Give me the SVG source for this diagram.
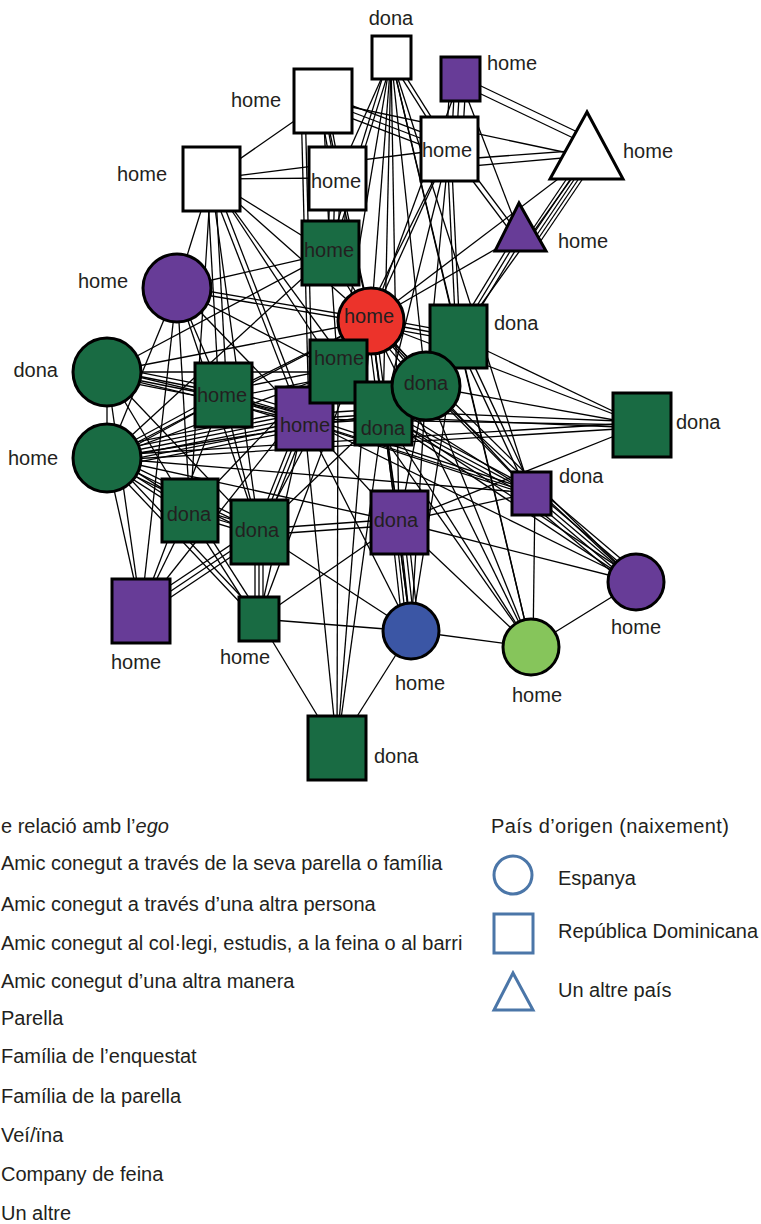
<svg xmlns="http://www.w3.org/2000/svg" width="761" height="1224" viewBox="0 0 761 1224">
<style>
.e line{stroke:#000;stroke-width:1.3}
.n{stroke:#000;stroke-width:3}
.w{fill:#fff}.gr{fill:#196b43}.pu{fill:#673c97}.re{fill:#ec332b}.bl{fill:#3b56a5}.lg{fill:#86c55b}
text{font-family:"Liberation Sans",Arial,sans-serif;font-size:20px;fill:#231f20}
.c{text-anchor:middle}.r{text-anchor:end}
.lgd{fill:none;stroke:#4b76a8;stroke-width:3}
</style>
<rect width="761" height="1224" fill="#fff"/>
<g id="edges" class="e">
<line x1="371" y1="321" x2="391" y2="57"/><line x1="371" y1="321" x2="460" y2="79"/><line x1="371" y1="321" x2="323" y2="101"/><line x1="371" y1="321" x2="449" y2="149"/><line x1="371" y1="321" x2="587" y2="157"/><line x1="371" y1="321" x2="520" y2="235"/><line x1="371" y1="321" x2="211" y2="179"/><line x1="371" y1="321" x2="337" y2="178"/><line x1="371" y1="321" x2="304" y2="419"/><line x1="371" y1="321" x2="223" y2="395"/><line x1="371" y1="321" x2="107" y2="372"/><line x1="371" y1="321" x2="107" y2="458"/><line x1="371" y1="321" x2="190" y2="511"/><line x1="371" y1="321" x2="259" y2="532"/><line x1="371" y1="321" x2="399" y2="522"/><line x1="371" y1="321" x2="531" y2="493"/><line x1="371" y1="321" x2="642" y2="425"/><line x1="371" y1="321" x2="636" y2="582"/><line x1="371" y1="321" x2="531" y2="647"/><line x1="371" y1="321" x2="411" y2="631"/><line x1="371" y1="321" x2="141" y2="611"/><line x1="371" y1="321" x2="259" y2="619"/><line x1="371" y1="321" x2="337" y2="748"/>
<line x1="372.7" y1="320" x2="331.7" y2="252"/><line x1="369.3" y1="322" x2="328.3" y2="254"/>
<line x1="371.3" y1="319" x2="177.3" y2="286"/><line x1="370.7" y1="323" x2="176.7" y2="290"/>
<line x1="371.7" y1="317.1" x2="458.7" y2="333.1"/><line x1="371" y1="321" x2="458" y2="337"/><line x1="370.3" y1="324.9" x2="457.3" y2="340.9"/>
<line x1="374.4" y1="323.2" x2="341.4" y2="374.2"/><line x1="371" y1="321" x2="338" y2="372"/><line x1="367.6" y1="318.8" x2="334.6" y2="369.8"/>
<line x1="374.1" y1="318.4" x2="429.1" y2="383.4"/><line x1="371" y1="321" x2="426" y2="386"/><line x1="367.9" y1="323.6" x2="422.9" y2="388.6"/>
<line x1="375" y1="320.5" x2="387" y2="413.5"/><line x1="371" y1="321" x2="383" y2="414"/><line x1="367" y1="321.5" x2="379" y2="414.5"/>
<line x1="392.7" y1="55.9" x2="450.7" y2="147.9"/><line x1="389.3" y1="58.1" x2="447.3" y2="150.1"/>
<line x1="392.9" y1="57.6" x2="331.9" y2="253.6"/><line x1="389.1" y1="56.4" x2="328.1" y2="252.4"/>
<line x1="391" y1="57" x2="337" y2="178"/><line x1="391" y1="57" x2="338" y2="372"/><line x1="391" y1="57" x2="383" y2="414"/><line x1="391" y1="57" x2="426" y2="386"/><line x1="391" y1="57" x2="458" y2="337"/><line x1="391" y1="57" x2="399" y2="522"/><line x1="391" y1="57" x2="531" y2="493"/><line x1="391" y1="57" x2="531" y2="647"/>
<line x1="450" y1="79" x2="446" y2="149"/><line x1="455" y1="79" x2="451" y2="149"/><line x1="460" y1="79" x2="456" y2="149"/><line x1="466" y1="79" x2="462" y2="149"/>
<line x1="460" y1="76" x2="590" y2="138"/><line x1="460" y1="84" x2="590" y2="146"/>
<line x1="460" y1="79" x2="520" y2="235"/>
<line x1="323" y1="101" x2="211" y2="179"/><line x1="323" y1="101" x2="587" y2="157"/><line x1="323" y1="101" x2="330" y2="253"/>
<line x1="325.1" y1="95.4" x2="451.1" y2="143.4"/><line x1="323" y1="101" x2="449" y2="149"/><line x1="320.9" y1="106.6" x2="446.9" y2="154.6"/>
<line x1="326.9" y1="100.3" x2="340.9" y2="177.3"/><line x1="323" y1="101" x2="337" y2="178"/><line x1="319.1" y1="101.7" x2="333.1" y2="178.7"/>
<line x1="301" y1="101" x2="309" y2="419"/><line x1="305" y1="101" x2="313" y2="419"/>
<line x1="330" y1="178" x2="328" y2="253"/><line x1="335" y1="178" x2="333" y2="253"/><line x1="340" y1="178" x2="338" y2="253"/><line x1="346" y1="178" x2="344" y2="253"/>
<line x1="576" y1="165" x2="524" y2="242"/><line x1="580" y1="165" x2="528" y2="242"/><line x1="584" y1="165" x2="532" y2="242"/><line x1="588" y1="165" x2="536" y2="242"/><line x1="592" y1="165" x2="540" y2="242"/>
<line x1="449" y1="160" x2="585" y2="150"/><line x1="449" y1="168" x2="585" y2="156"/>
<line x1="451" y1="152" x2="511" y2="232"/><line x1="455" y1="149" x2="515" y2="229"/>
<line x1="447" y1="149" x2="456" y2="337"/><line x1="451" y1="149" x2="460" y2="337"/>
<line x1="449" y1="149" x2="426" y2="386"/><line x1="449" y1="149" x2="338" y2="372"/><line x1="449" y1="149" x2="383" y2="414"/><line x1="449" y1="149" x2="211" y2="179"/>
<line x1="587" y1="157" x2="458" y2="337"/>
<line x1="523.4" y1="237.1" x2="461.4" y2="339.1"/><line x1="520" y1="235" x2="458" y2="337"/><line x1="516.6" y1="232.9" x2="454.6" y2="334.9"/>
<line x1="211" y1="179" x2="337" y2="178"/><line x1="211" y1="179" x2="330" y2="253"/><line x1="211" y1="179" x2="177" y2="288"/><line x1="211" y1="179" x2="338" y2="372"/><line x1="211" y1="179" x2="383" y2="414"/><line x1="211" y1="179" x2="190" y2="511"/><line x1="211" y1="179" x2="259" y2="532"/>
<line x1="207" y1="179" x2="219" y2="395"/><line x1="215" y1="179" x2="227" y2="395"/>
<line x1="213.3" y1="178.1" x2="306.3" y2="418.1"/><line x1="208.7" y1="179.9" x2="301.7" y2="419.9"/>
<line x1="330" y1="253" x2="177" y2="288"/><line x1="330" y1="253" x2="107" y2="372"/><line x1="330" y1="253" x2="338" y2="372"/><line x1="330" y1="253" x2="107" y2="458"/>
<line x1="177" y1="288" x2="338" y2="372"/><line x1="177" y1="288" x2="304" y2="419"/><line x1="177" y1="288" x2="223" y2="395"/><line x1="177" y1="288" x2="190" y2="511"/><line x1="177" y1="288" x2="259" y2="532"/><line x1="177" y1="288" x2="141" y2="611"/><line x1="177" y1="288" x2="107" y2="458"/>
<line x1="458" y1="337" x2="642" y2="425"/><line x1="458" y1="337" x2="426" y2="386"/><line x1="458" y1="337" x2="383" y2="414"/><line x1="458" y1="337" x2="531" y2="647"/><line x1="458" y1="337" x2="411" y2="631"/>
<line x1="460.3" y1="335.9" x2="533.3" y2="491.9"/><line x1="455.7" y1="338.1" x2="528.7" y2="494.1"/>
<line x1="338" y1="372" x2="383" y2="414"/><line x1="338" y1="372" x2="304" y2="419"/><line x1="338" y1="372" x2="107" y2="372"/><line x1="338" y1="372" x2="107" y2="458"/><line x1="338" y1="372" x2="337" y2="748"/><line x1="338" y1="372" x2="531" y2="647"/><line x1="338" y1="372" x2="531" y2="493"/>
<line x1="338.8" y1="375.9" x2="223.8" y2="398.9"/><line x1="337.2" y1="368.1" x2="222.2" y2="391.1"/>
<line x1="426" y1="386" x2="383" y2="414"/><line x1="426" y1="386" x2="642" y2="425"/><line x1="426" y1="386" x2="636" y2="582"/><line x1="426" y1="386" x2="531" y2="647"/><line x1="426" y1="386" x2="411" y2="631"/><line x1="426" y1="386" x2="399" y2="522"/><line x1="426" y1="386" x2="531" y2="493"/>
<line x1="383" y1="409" x2="304" y2="414"/><line x1="383" y1="414" x2="304" y2="419"/><line x1="383" y1="419" x2="304" y2="424"/>
<line x1="383" y1="411" x2="642" y2="422"/><line x1="383" y1="417" x2="642" y2="428"/>
<line x1="384.9" y1="410.5" x2="532.9" y2="489.5"/><line x1="383" y1="414" x2="531" y2="493"/><line x1="381.1" y1="417.5" x2="529.1" y2="496.5"/>
<line x1="384.4" y1="411.9" x2="637.4" y2="579.9"/><line x1="381.6" y1="416.1" x2="634.6" y2="584.1"/>
<line x1="383" y1="414" x2="531" y2="647"/><line x1="383" y1="414" x2="399" y2="522"/><line x1="383" y1="414" x2="411" y2="631"/><line x1="383" y1="414" x2="337" y2="748"/><line x1="383" y1="414" x2="259" y2="532"/><line x1="383" y1="414" x2="107" y2="458"/>
<line x1="305.9" y1="428.8" x2="108.9" y2="467.8"/><line x1="305.2" y1="424.9" x2="108.2" y2="463.9"/><line x1="304.4" y1="421" x2="107.4" y2="460"/><line x1="303.6" y1="417" x2="106.6" y2="456"/><line x1="302.8" y1="413.1" x2="105.8" y2="452.1"/><line x1="302.1" y1="409.2" x2="105.1" y2="448.2"/>
<line x1="302.3" y1="424.8" x2="221.3" y2="400.8"/><line x1="303.4" y1="420.9" x2="222.4" y2="396.9"/><line x1="304.6" y1="417.1" x2="223.6" y2="393.1"/><line x1="305.7" y1="413.2" x2="224.7" y2="389.2"/>
<line x1="307.7" y1="420.5" x2="262.7" y2="533.5"/><line x1="304" y1="419" x2="259" y2="532"/><line x1="300.3" y1="417.5" x2="255.3" y2="530.5"/>
<line x1="304.6" y1="416.6" x2="107.6" y2="369.6"/><line x1="303.4" y1="421.4" x2="106.4" y2="374.4"/>
<line x1="304" y1="419" x2="642" y2="425"/><line x1="304" y1="419" x2="636" y2="582"/><line x1="304" y1="419" x2="259" y2="619"/><line x1="304" y1="419" x2="337" y2="748"/><line x1="304" y1="419" x2="399" y2="522"/><line x1="304" y1="419" x2="411" y2="631"/>
<line x1="304.8" y1="416.6" x2="531.8" y2="490.6"/><line x1="303.2" y1="421.4" x2="530.2" y2="495.4"/>
<line x1="221.8" y1="400.9" x2="105.8" y2="377.9"/><line x1="222.6" y1="397" x2="106.6" y2="374"/><line x1="223.4" y1="393" x2="107.4" y2="370"/><line x1="224.2" y1="389.1" x2="108.2" y2="366.1"/>
<line x1="221.8" y1="392.8" x2="105.8" y2="455.8"/><line x1="224.2" y1="397.2" x2="108.2" y2="460.2"/>
<line x1="223" y1="395" x2="259" y2="532"/><line x1="223" y1="395" x2="141" y2="611"/><line x1="223" y1="395" x2="531" y2="493"/>
<line x1="107" y1="372" x2="107" y2="458"/><line x1="107" y1="372" x2="190" y2="511"/><line x1="107" y1="372" x2="259" y2="532"/><line x1="107" y1="372" x2="141" y2="611"/>
<line x1="107" y1="455.5" x2="642" y2="422.5"/><line x1="107" y1="460.5" x2="642" y2="427.5"/>
<line x1="109.2" y1="454.6" x2="192.2" y2="507.6"/><line x1="107" y1="458" x2="190" y2="511"/><line x1="104.8" y1="461.4" x2="187.8" y2="514.4"/>
<line x1="108.8" y1="454.4" x2="260.8" y2="528.4"/><line x1="107" y1="458" x2="259" y2="532"/><line x1="105.2" y1="461.6" x2="257.2" y2="535.6"/>
<line x1="108.8" y1="456.3" x2="260.8" y2="617.3"/><line x1="105.2" y1="459.7" x2="257.2" y2="620.7"/>
<line x1="107" y1="458" x2="141" y2="611"/><line x1="107" y1="458" x2="531" y2="493"/><line x1="107" y1="458" x2="399" y2="522"/>
<line x1="191.2" y1="507.2" x2="260.2" y2="528.2"/><line x1="190" y1="511" x2="259" y2="532"/><line x1="188.8" y1="514.8" x2="257.8" y2="535.8"/>
<line x1="192.5" y1="509.4" x2="261.5" y2="617.4"/><line x1="187.5" y1="512.6" x2="256.5" y2="620.6"/>
<line x1="190" y1="511" x2="141" y2="611"/>
<line x1="259" y1="529" x2="399" y2="519"/><line x1="259" y1="535" x2="399" y2="525"/>
<line x1="255" y1="532" x2="255" y2="619"/><line x1="259" y1="532" x2="259" y2="619"/><line x1="263" y1="532" x2="263" y2="619"/>
<line x1="261.8" y1="536.2" x2="143.8" y2="615.2"/><line x1="259" y1="532" x2="141" y2="611"/><line x1="256.2" y1="527.8" x2="138.2" y2="606.8"/>
<line x1="259" y1="532" x2="411" y2="631"/>
<line x1="391" y1="522" x2="403" y2="631"/><line x1="395" y1="522" x2="407" y2="631"/><line x1="399" y1="522" x2="411" y2="631"/><line x1="403" y1="522" x2="415" y2="631"/><line x1="407" y1="522" x2="419" y2="631"/>
<line x1="399" y1="522" x2="259" y2="619"/><line x1="399" y1="522" x2="642" y2="425"/><line x1="399" y1="522" x2="531" y2="493"/><line x1="399" y1="522" x2="531" y2="647"/><line x1="399" y1="522" x2="636" y2="582"/>
<line x1="536.2" y1="486.9" x2="641.2" y2="575.9"/><line x1="533.6" y1="489.9" x2="638.6" y2="578.9"/><line x1="531" y1="493" x2="636" y2="582"/><line x1="528.4" y1="496.1" x2="633.4" y2="585.1"/><line x1="525.8" y1="499.1" x2="630.8" y2="588.1"/>
<line x1="535" y1="493" x2="533" y2="647"/><line x1="636" y1="582" x2="531" y2="647"/><line x1="531" y1="647" x2="411" y2="631"/>
<line x1="411" y1="631" x2="259" y2="619"/><line x1="411" y1="631" x2="337" y2="748"/><line x1="259" y1="619" x2="337" y2="748"/>
</g>
<g id="n-A"><rect class="n w" x="372" y="36" width="39" height="43"/><text class="c" x="391" y="25">dona</text></g>
<g id="n-B"><rect class="n pu" x="441" y="57" width="39" height="44"/><text x="487" y="70">home</text></g>
<g id="n-C"><rect class="n w" x="294" y="69" width="58" height="64"/><text class="r" x="281" y="107">home</text></g>
<g id="n-D"><rect class="n w" x="421" y="117" width="57" height="64"/><text class="c" x="447" y="157">home</text></g>
<g id="n-E"><polygon class="n w" points="587,112 550,179 623,179"/><text x="623" y="158">home</text></g>
<g id="n-F"><polygon class="n pu" points="519,203 495,251 546,251"/><text x="558" y="248">home</text></g>
<g id="n-G"><rect class="n w" x="183" y="147" width="57" height="64"/><text class="r" x="167" y="181">home</text></g>
<g id="n-H"><rect class="n w" x="309" y="147" width="57" height="63"/><text class="c" x="336" y="188">home</text></g>
<g id="n-I"><rect class="n gr" x="302" y="221" width="57" height="64"/><text class="c" x="329" y="257">home</text></g>
<g id="n-J"><circle class="n pu" cx="177" cy="288" r="34"/><text class="r" x="128" y="288">home</text></g>
<g id="n-P"><rect class="n pu" x="276" y="387" width="57" height="63"/><text class="c" x="305" y="432">home</text></g>
<g id="n-K"><circle class="n re" cx="371" cy="321" r="33"/><text class="c" x="369" y="323">home</text></g>
<g id="n-M"><rect class="n gr" x="310" y="340" width="57" height="63"/><text class="c" x="339" y="365">home</text></g>
<g id="n-O"><rect class="n gr" x="355" y="382" width="57" height="63"/><text class="c" x="383" y="435">dona</text></g>
<g id="n-L"><rect class="n gr" x="430" y="305" width="57" height="63"/><text x="494" y="330">dona</text></g>
<g id="n-N"><circle class="n gr" cx="426" cy="386" r="34"/><text class="c" x="426" y="390">dona</text></g>
<g id="n-Q"><rect class="n gr" x="195" y="363" width="57" height="64"/><text class="c" x="222" y="402">home</text></g>
<g id="n-R"><circle class="n gr" cx="107" cy="372" r="34"/><text class="r" x="58" y="377">dona</text></g>
<g id="n-S"><circle class="n gr" cx="107" cy="458" r="34"/><text class="r" x="58" y="465">home</text></g>
<g id="n-T"><rect class="n gr" x="162" y="479" width="56" height="63"/><text class="c" x="189" y="521">dona</text></g>
<g id="n-U"><rect class="n gr" x="231" y="500" width="57" height="64"/><text class="c" x="257" y="537">dona</text></g>
<g id="n-V"><rect class="n pu" x="371" y="491" width="57" height="63"/><text class="c" x="396" y="527">dona</text></g>
<g id="n-W"><rect class="n pu" x="512" y="472" width="39" height="43"/><text x="559" y="483">dona</text></g>
<g id="n-X"><rect class="n gr" x="613" y="393" width="58" height="64"/><text x="676" y="429">dona</text></g>
<g id="n-Y"><circle class="n pu" cx="636" cy="582" r="28"/><text class="c" x="636" y="634">home</text></g>
<g id="n-Z"><circle class="n lg" cx="531" cy="647" r="28"/><text class="c" x="537" y="702">home</text></g>
<g id="n-AA"><circle class="n bl" cx="411" cy="631" r="28"/><text class="c" x="420" y="690">home</text></g>
<g id="n-AB"><rect class="n pu" x="112" y="579" width="58" height="64"/><text class="c" x="136" y="669">home</text></g>
<g id="n-AC"><rect class="n gr" x="239" y="597" width="40" height="44"/><text class="c" x="245" y="664">home</text></g>
<g id="n-AD"><rect class="n gr" x="308" y="716" width="58" height="64"/><text x="374" y="763">dona</text></g>
<g id="legend-relacio">
<text x="1" y="833">e relació amb l’<tspan font-style="italic">ego</tspan></text>
<text x="1" y="870">Amic conegut a través de la seva parella o família</text>
<text x="1" y="911">Amic conegut a través d’una altra persona</text>
<text x="1" y="950">Amic conegut al col·legi, estudis, a la feina o al barri</text>
<text x="1" y="988">Amic conegut d’una altra manera</text>
<text x="1" y="1025">Parella</text>
<text x="1" y="1063">Família de l’enquestat</text>
<text x="1" y="1103">Família de la parella</text>
<text x="1" y="1142">Veí/ïna</text>
<text x="1" y="1181">Company de feina</text>
<text x="1" y="1220">Un altre</text>
</g>
<g id="legend-pais">
<text x="491" y="833" textLength="238">País d’origen (naixement)</text>
<circle class="lgd" cx="513" cy="875" r="19"/>
<text x="558" y="885">Espanya</text>
<rect class="lgd" x="494" y="914" width="39" height="39"/>
<text x="558" y="938">República Dominicana</text>
<polygon class="lgd" points="513,973 494,1010 533,1010"/>
<text x="558" y="997">Un altre país</text>
</g>
</svg>
